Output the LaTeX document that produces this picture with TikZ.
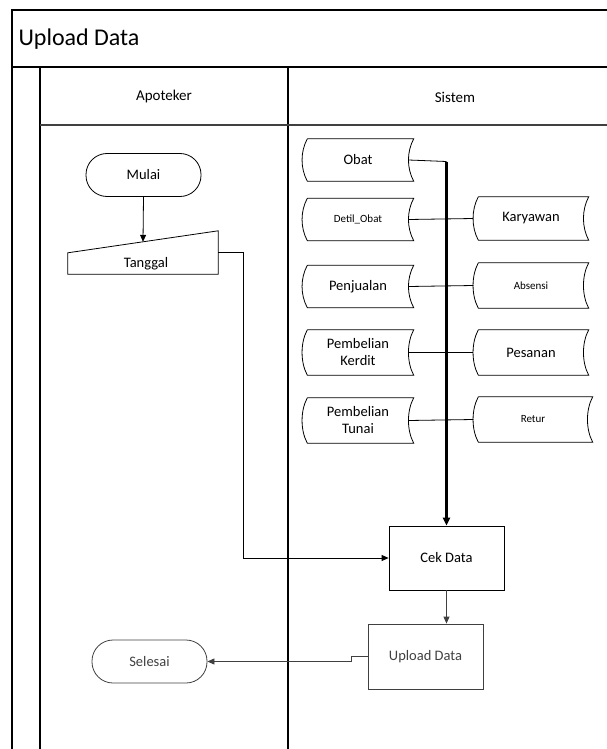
\documentclass[tikz,border=0pt]{standalone}
\usepackage{fontspec}
\setmainfont{Carlito}
\usetikzlibrary{arrows.meta,positioning,calc}
\definecolor{lanegray}{RGB}{64,64,64}

\begin{document}
\begin{tikzpicture}[x=1pt,y=-1pt,font=\fontsize{14.5}{17}\selectfont]
    \tikzset{frameline/.style={draw=black, line width=1.2pt}}
    \tikzset{termbox/.style={rectangle, rounded corners=21pt, minimum width=115pt,
      minimum height=43pt, draw, line width=0.8pt, text centered}}
    \tikzset{procbox/.style={rectangle, minimum width=115pt, minimum height=64pt,
      draw, line width=0.8pt, text centered}}
    \tikzset{storebox/.style={rectangle, minimum width=111pt, minimum height=42pt,
      draw=none, align=center, inner sep=1pt}}
    \tikzset{smalltext/.style={font=\fontsize{11}{13}\selectfont}}
    \tikzset{flow/.style={-{Triangle[length=7pt,width=6pt]}, line width=0.8pt}}
    \tikzset{link/.style={line width=0.8pt}}
    \useasboundingbox (0,0) rectangle (607,749);

    % swimlane frame
    \draw[frameline] (12,749) -- (12,10) -- (607,10);
    \draw[frameline] (12,67) -- (607,67);
    \draw[frameline] (40,749) -- (40,67);
    \draw[frameline] (288,749) -- (288,67);
    \draw[frameline, draw=lanegray] (40,125) -- (607,125);
    \node[font=\fontsize{24}{28}\selectfont, anchor=west] (title) at (15,39) {Upload Data};
    \node[font=\fontsize{15}{18}\selectfont] (apoteker) at (164,97) {Apoteker};
    \node[font=\fontsize{15}{18}\selectfont] (sistem) at (455,97) {Sistem};

    % Apoteker lane
    \node[termbox] (mulai) at (143.5,175) {Mulai};
    \node[rectangle, minimum width=150pt, minimum height=43pt] (tgl) at (143,252.5) {};
    \draw[link] (tgl.south west) -- (tgl.south east) -- (tgl.north east)
      -- ([yshift=-22pt]tgl.north west) -- cycle;
    \node (tgltxt) at (146,264) {Tanggal};
    \node[termbox, draw=lanegray, text=lanegray] (selesai) at (149.5,661.5) {Selesai};

    % data stores
    \node[storebox] (obat) at (358,160) {Obat};
    \node[storebox, smalltext] (detil) at (358,219.5) {Detil\_Obat};
    \node[storebox] (penj) at (358,286.5) {Penjualan};
    \node[storebox, minimum height=45pt] (kerdit) at (358,352.5) {Pembelian\\Kerdit};
    \node[storebox, minimum height=45pt] (tunai) at (358,420.5) {Pembelian\\Tunai};
    \node[storebox, minimum width=115pt, minimum height=43pt] (kary) at (531,218.5) {Karyawan};
    \node[storebox, minimum width=115pt, minimum height=45pt, smalltext] (absen) at (531,285.5) {Absensi};
    \node[storebox, minimum width=115pt, minimum height=45pt] (pesan) at (531,352.5) {Pesanan};
    \node[storebox, minimum width=119pt, minimum height=45pt, smalltext] (retur) at (533,419.5) {Retur};
    \foreach \n in {obat,detil,penj,kerdit,tunai,kary,absen,pesan,retur}
      \draw[link] ([xshift=5pt]\n.north west) -- (\n.north east)
        .. controls +(-7,13) and +(-7,-13) .. (\n.south east)
        -- ([xshift=5pt]\n.south west)
        .. controls +(-7,-13) and +(-7,13) .. ([xshift=5pt]\n.north west);

    % process boxes
    \node[procbox] (cek) at (446.5,558) {Cek Data};
    \node[procbox, minimum height=65pt, draw=lanegray, text=lanegray] (upl) at (425.5,656.5) {Upload Data};

    % store links and the bus into Cek Data
    \coordinate (bus) at ([yshift=-1.5pt]obat.east -| cek.north);
    \draw[link] ([xshift=-5pt]obat.east) -- (bus);
    \draw[link] ([xshift=-5pt]detil.east) -- (kary.west);
    \draw[link] ([xshift=-5pt]penj.east) -- (absen.west);
    \draw[link] ([xshift=-5pt]kerdit.east) -- (pesan.west);
    \draw[link] ([xshift=-5pt]tunai.east) -- (retur.west);
    \draw[-{Triangle[length=8pt,width=7pt]}, line width=2.2pt] (bus) -- (cek.north);

    % flow arrows
    \draw[flow] (mulai.south) -- ($([yshift=-22pt]tgl.north west)!0.5!(tgl.north east)$);
    \draw[flow] (tgl.east) -- ++(25,0) |- (cek.west);
    \draw[flow, draw=lanegray] (cek.south) -- (cek.south |- upl.north);
    \draw[flow, draw=lanegray] (upl.west) -- ++(-16,0) |- (selesai.east);
\end{tikzpicture}
\end{document}
